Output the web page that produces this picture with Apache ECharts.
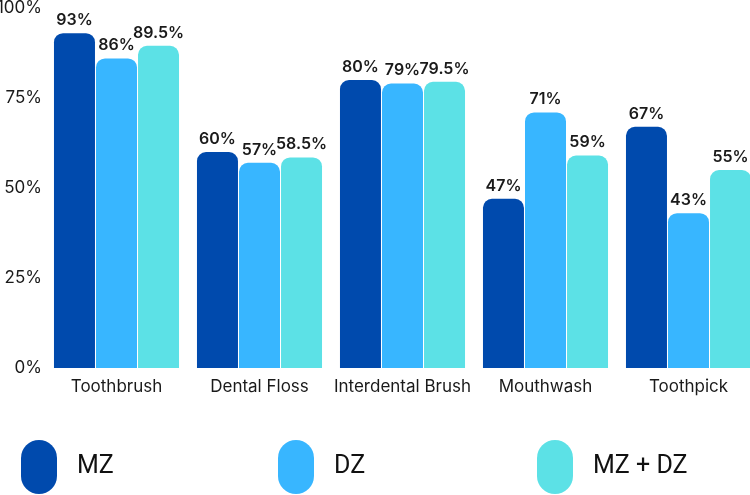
<!DOCTYPE html>
<html><head><meta charset="utf-8">
<script src="https://cdn.jsdelivr.net/npm/echarts@6/dist/echarts.min.js"></script>
<style>html,body{margin:0;padding:0;background:#fff}#c{width:750px;height:495px}</style>
</head><body><div id="c"></div>
<script>
const categories = ['Toothbrush', 'Dental Floss', 'Interdental Brush', 'Mouthwash', 'Toothpick'];
const seriesNames = ['MZ', 'DZ', 'MZ + DZ'];
const mz = [93, 60, 80, 47, 67];
const dz = [86, 57, 79, 71, 43];
const mzdz = [89.5, 58.5, 79.5, 59, 55];
const yTicks = [0, 25, 50, 75, 100];
const colors = ['#004AAD', '#38B6FF', '#5CE1E6'];
const font = 'Inter';

const chart = echarts.init(document.getElementById('c'));
const values = [mz, dz, mzdz];
const legendLefts = [16, 273, 532];
const pill = 'path://M0,18A18,18,0,0,1,36,18L36,36A18,18,0,0,1,0,36Z';
chart.setOption({
  animation: false,
  grid: { left: 45, right: -10, top: 8, bottom: 127, outerBoundsMode: 'none', containLabel: false },
  xAxis: {
    type: 'category', data: categories,
    axisLine: { show: false }, axisTick: { show: false },
    axisLabel: { interval: 0, color: '#1a1a1a', fontSize: 17, fontFamily: font, margin: 10 }
  },
  yAxis: {
    type: 'value', min: yTicks[0], max: yTicks[yTicks.length - 1], interval: 25,
    splitLine: { show: false },
    axisLabel: { color: '#1a1a1a', fontSize: 17, fontFamily: font, margin: 3, formatter: v => v + '%' }
  },
  legend: seriesNames.map((n, i) => ({
    data: [n], left: legendLefts[i], top: 435,
    itemWidth: 36, itemHeight: 54, icon: pill,
    textStyle: { fontSize: 25, fontFamily: 'Roboto', color: '#111', padding: [0, 0, 0, 15] },
    selectedMode: false
  })),
  series: seriesNames.map((n, i) => ({
    name: n, type: 'bar', data: values[i],
    barWidth: 41, barGap: '2.5%',
    itemStyle: { color: colors[i], borderRadius: [9, 9, 0, 0] },
    label: { show: true, position: 'top', distance: 5, color: '#1a1a1a', fontSize: 16, fontWeight: 600, fontFamily: font, formatter: p => p.value + '%' }
  }))
});
</script></body></html>
